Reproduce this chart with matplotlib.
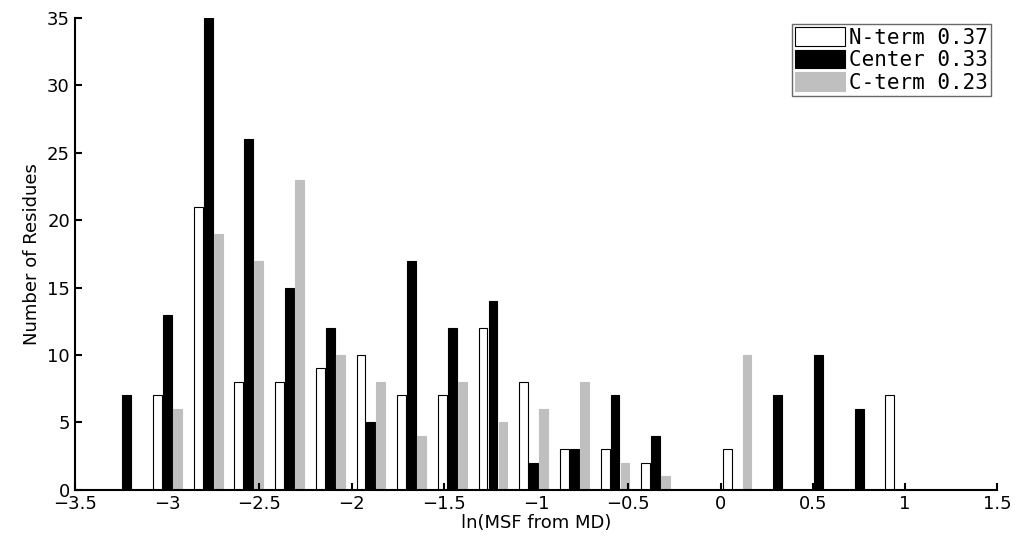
import matplotlib
matplotlib.use("Agg")
import matplotlib.pyplot as plt
import numpy as np

# bin centres of ln(MSF from MD)
bin_start = -3.218
bin_step = 0.2205
n_bins = 20
centers = bin_start + bin_step * np.arange(n_bins)

n_term = [0, 7, 21, 8, 8, 9, 10, 7, 7, 12, 8, 3, 3, 2, 0, 3, 0, 0, 0, 7]
center = [7, 13, 35, 26, 15, 12, 5, 17, 12, 14, 2, 3, 7, 4, 0, 0, 7, 10, 6, 0]
c_term = [0, 6, 19, 17, 23, 10, 8, 4, 8, 5, 6, 8, 2, 1, 0, 10, 0, 0, 0, 0]
labels = ["N-term 0.37", "Center 0.33", "C-term 0.23"]

fig = plt.figure(figsize=(10.24, 5.56), dpi=100)
ax = fig.add_axes([0.073, 0.119, 0.901, 0.849])

off = 0.054
w = 0.048
ax.bar(centers - off, n_term, w, color="white", edgecolor="black", linewidth=0.8, label=labels[0])
ax.bar(centers, center, w, color="black", edgecolor="black", linewidth=0.8, label=labels[1])
ax.bar(centers + off, c_term, w, color="#bfbfbf", edgecolor="#bfbfbf", linewidth=0.8, label=labels[2])

ax.set_xlim(-3.5, 1.5)
ax.set_ylim(0, 35)
ax.set_xticks(np.arange(-3.5, 1.51, 0.5))
ax.set_xticklabels(["\u22123.5", "\u22123", "\u22122.5", "\u22122", "\u22121.5", "\u22121",
                    "\u22120.5", "0", "0.5", "1", "1.5"])
ax.set_yticks(range(0, 36, 5))
ax.tick_params(direction="in", labelsize=13, length=5, width=1.5)
for s in ["top", "right"]:
    ax.spines[s].set_visible(False)
for s in ["left", "bottom"]:
    ax.spines[s].set_linewidth(1.5)
ax.set_xlabel("ln(MSF from MD)", fontsize=13, labelpad=1)
ax.set_ylabel("Number of Residues", fontsize=13)

leg = ax.legend(loc="upper right", prop={"family": "DejaVu Sans Mono", "size": 15},
                frameon=True, fancybox=False, edgecolor="#444444", borderpad=0.15,
                handlelength=2.4, handleheight=1.0, handletextpad=0.2,
                labelspacing=0.1, borderaxespad=0.3)
leg.get_frame().set_linewidth(1.0)

fig.savefig("out.png", dpi=100)
